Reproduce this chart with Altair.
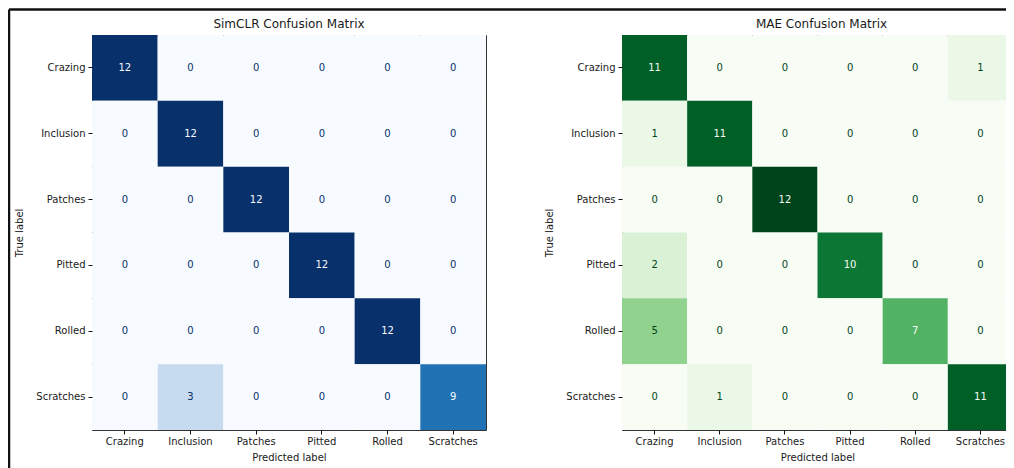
import altair as alt
import pandas as pd

categories = ["Crazing", "Inclusion", "Patches", "Pitted", "Rolled", "Scratches"]

simclr_rows = [
    [12, 0, 0, 0, 0, 0],
    [0, 12, 0, 0, 0, 0],
    [0, 0, 12, 0, 0, 0],
    [0, 0, 0, 12, 0, 0],
    [0, 0, 0, 0, 12, 0],
    [0, 3, 0, 0, 0, 9],
]

mae_rows = [
    [11, 0, 0, 0, 0, 1],
    [1, 11, 0, 0, 0, 0],
    [0, 0, 12, 0, 0, 0],
    [2, 0, 0, 10, 0, 0],
    [5, 0, 0, 0, 7, 0],
    [0, 1, 0, 0, 0, 11],
]

titles = ["SimCLR Confusion Matrix", "MAE Confusion Matrix"]

blues = ["#f7fbff", "#deebf7", "#c6dbef", "#9ecae1", "#6baed6",
         "#4292c6", "#2171b5", "#08519c", "#08306b"]
greens = ["#f7fcf5", "#e5f5e0", "#c7e9c0", "#a1d99b", "#74c476",
          "#41ab5d", "#238b45", "#006d2c", "#00441b"]

FONT = "DejaVu Sans"
H = 395


def to_frame(rows):
    recs = []
    for i, t in enumerate(categories):
        for j, p in enumerate(categories):
            recs.append({"true": t, "pred": p, "value": rows[i][j]})
    return pd.DataFrame(recs)


def panel(rows, palette, title, width, title_dx=0, border=False):
    df = to_frame(rows)
    vals = [v for r in rows for v in r]
    vmin, vmax = min(vals), max(vals)
    n = len(palette)
    stops = [vmin + (vmax - vmin) * k / (n - 1) for k in range(n)]
    thresh = (vmax + vmin) / 2.0

    x = alt.X(
        "pred:N", sort=categories,
        scale=alt.Scale(paddingInner=0, paddingOuter=0),
        axis=alt.Axis(
            title="Predicted label", labelAngle=0, domain=False,
            tickSize=4, tickColor="#111", labelPadding=2,
            labelFont=FONT, labelFontSize=10, labelColor="#1a1a1a",
            titleFont=FONT, titleFontSize=10, titleFontWeight="normal",
            titleColor="#1a1a1a", titleY=27, titleBaseline="middle",
        ),
    )
    y = alt.Y(
        "true:N", sort=categories,
        scale=alt.Scale(paddingInner=0, paddingOuter=0),
        axis=alt.Axis(
            title="True label", domain=False,
            tickSize=4, tickColor="#111", labelPadding=3,
            labelFont=FONT, labelFontSize=10, labelColor="#1a1a1a",
            titleFont=FONT, titleFontSize=10, titleFontWeight="normal",
            titleColor="#1a1a1a", titleX=-73, titleY=H / 2,
            titleBaseline="middle", titleAngle=-90,
        ),
    )
    base = alt.Chart(df)
    rect = base.mark_rect().encode(
        x=x, y=y,
        color=alt.Color(
            "value:Q",
            scale=alt.Scale(domain=stops, range=palette, interpolate="rgb"),
            legend=None,
        ),
    )
    text = base.mark_text(font=FONT, fontSize=10).encode(
        x=x, y=y,
        text="value:Q",
        color=alt.condition(alt.datum.value >= thresh,
                            alt.value(palette[0]), alt.value(palette[-1])),
    )
    one = alt.Chart(pd.DataFrame({"t": [title]}))
    head = one.mark_text(font=FONT, fontSize=12, color="#1a1a1a",
                         align="center", baseline="middle").encode(
        x=alt.value(width / 2 + title_dx), y=alt.value(-11), text="t:N")
    layers = [rect, text, head]
    if border:
        top = one.mark_rule(color="#111", strokeWidth=2.5).encode(
            x=alt.value(-83), x2=alt.value(930), y=alt.value(-25.5))
        left = one.mark_rule(color="#111", strokeWidth=2.5).encode(
            x=alt.value(-83), y=alt.value(-25.5), y2=alt.value(440))
        layers += [top, left]
    return alt.layer(*layers).properties(width=width, height=H)


left_panel = panel(simclr_rows, blues, titles[0], 394, border=True)
right_panel = panel(mae_rows, greens, titles[1], 391, title_dx=4)

chart = alt.hconcat(left_panel, right_panel, spacing=136, bounds="flush").resolve_scale(
    color="independent"
).properties(
    autosize=alt.AutoSizeParams(type="none"),
    padding={"top": 27, "left": 84, "right": 914, "bottom": 433},
    background="white",
).configure_view(stroke="#333", strokeWidth=1)

chart.save("out.html", embed_options={"renderer": "svg", "actions": False})
